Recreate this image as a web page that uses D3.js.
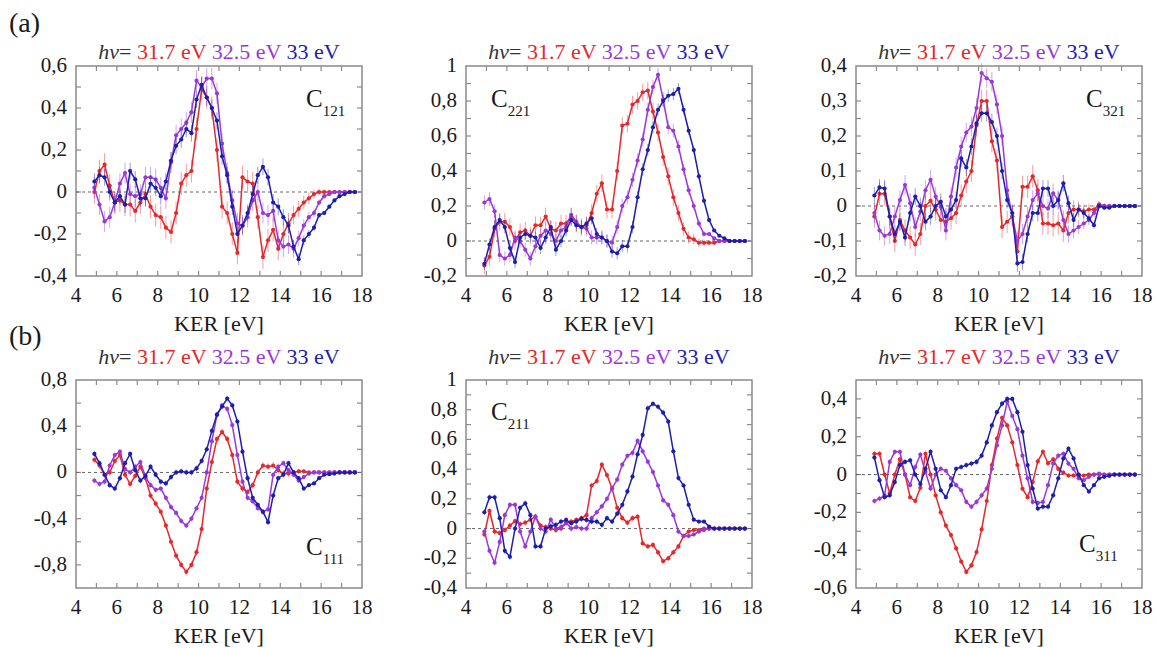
<!DOCTYPE html>
<html>
<head>
<meta charset="utf-8">
<script src="https://cdn.jsdelivr.net/npm/d3@7"></script>
<style>
  body { margin: 0; background: #fff; }
  svg { display: block; }
</style>
</head>
<body>
<div id="chart"></div>
<script>
// KER grid (eV), shared by every series
const ker = [
  4.9, 5.15, 5.4, 5.65, 5.9, 6.15, 6.4, 6.65, 6.9, 7.15, 7.4, 7.65, 7.9,
  8.15, 8.4, 8.65, 8.9, 9.15, 9.4, 9.65, 9.9, 10.15, 10.4, 10.65, 10.9, 11.15,
  11.4, 11.65, 11.9, 12.15, 12.4, 12.65, 12.9, 13.15, 13.4, 13.65, 13.9, 14.15, 14.4,
  14.65, 14.9, 15.15, 15.4, 15.65, 15.9, 16.15, 16.4, 16.65, 16.9, 17.15, 17.4, 17.65
];
// relative size of the error bars along the KER grid (they shrink in the high-KER tail)
const errShape = [
  1, 1, 1, 1, 1, 1, 1, 1, 1, 1, 1, 1, 1,
  1, 1, 1, 1, 1, 1, 1, 1, 1, 1, 1, 1, 1,
  1, 1, 1, 1, 1, 1, 1, 1, 1, 1, 1, 1, 0.9,
  0.8, 0.7, 0.6, 0.5, 0.4, 0.3, 0.25, 0.2, 0.15, 0.1, 0.1, 0.1, 0.1
];

const photonEnergies = ["31.7 eV", "32.5 eV", "33 eV"];
const xTicks = [4, 6, 8, 10, 12, 14, 16, 18];

// (a) C121
const c121Red = [
  0.0, 0.1, 0.13, 0.03, -0.05, -0.04, -0.06, -0.06, -0.09, -0.05, -0.01, -0.07, -0.11,
  -0.12, -0.17, -0.19, -0.1, 0.04, 0.08, 0.1, 0.3, 0.49, 0.45, 0.4, 0.2, -0.07,
  -0.1, -0.2, -0.29, 0.07, 0.05, 0.04, -0.12, -0.31, -0.23, -0.18, -0.27, -0.2, -0.15,
  -0.11, -0.08, -0.05, -0.03, -0.01, 0, 0, 0, 0, 0, 0, 0, 0];
const c121Violet = [
  0.02, -0.06, -0.14, -0.12, -0.05, 0.04, 0.09, -0.01, -0.02, -0.01, 0.07, 0.07, 0.06,
  0.02, -0.03, 0.14, 0.27, 0.3, 0.33, 0.38, 0.53, 0.5, 0.54, 0.54, 0.47, 0.23,
  0.09, -0.04, -0.15, -0.16, -0.12, -0.04, 0.0, -0.1, -0.11, -0.09, -0.23, -0.26, -0.25,
  -0.27, -0.22, -0.16, -0.12, -0.1, -0.05, -0.02, -0.01, 0, 0, 0, 0, 0];
const c121Blue = [
  0.05, 0.08, 0.07, 0.0, -0.05, -0.02, -0.06, 0.1, 0.06, -0.03, -0.03, 0.04, 0.02,
  -0.02, 0.05, 0.15, 0.22, 0.25, 0.3, 0.28, 0.44, 0.51, 0.45, 0.4, 0.34, 0.17,
  0.08, -0.07, -0.2, -0.16, -0.1, -0.01, 0.08, 0.12, 0.07, -0.05, -0.07, -0.12, -0.16,
  -0.26, -0.32, -0.23, -0.2, -0.17, -0.11, -0.1, -0.07, -0.04, -0.02, -0.01, 0, 0];

// (a) C221
const c221Red = [
  -0.14, -0.09, 0.07, 0.11, 0.11, 0.08, 0.0, 0.05, 0.06, 0.03, 0.09, 0.09, 0.14,
  0.07, 0.06, 0.1, 0.1, 0.14, 0.1, 0.08, 0.09, 0.16, 0.27, 0.33, 0.18, 0.18,
  0.4, 0.66, 0.67, 0.78, 0.8, 0.85, 0.86, 0.74, 0.62, 0.48, 0.37, 0.25, 0.16,
  0.07, 0.02, 0.01, -0.01, -0.01, -0.01, -0.01, 0, 0, 0, 0, 0, 0];
const c221Violet = [
  0.22, 0.24, 0.17, -0.08, -0.1, -0.08, 0.02, 0.0, -0.05, -0.1, -0.03, 0.03, 0.06,
  0.04, 0.0, 0.06, 0.08, 0.15, 0.11, 0.08, 0.07, 0.02, 0.02, 0.02, 0.0, -0.01,
  0.08, 0.2, 0.25, 0.35, 0.46, 0.58, 0.75, 0.88, 0.95, 0.81, 0.65, 0.63, 0.54,
  0.41, 0.29, 0.2, 0.1, 0.04, 0.04, 0.015, 0, 0, 0, 0, 0, 0];
const c221Blue = [
  -0.13, -0.02, 0.08, 0.12, 0.08, -0.04, -0.12, 0.02, 0.04, 0.03, 0.02, -0.04, 0.02,
  0.08, -0.05, 0.0, 0.06, 0.12, 0.09, 0.08, 0.1, 0.13, 0.04, 0.02, 0.0, -0.06,
  -0.07, -0.03, -0.03, 0.08, 0.25, 0.41, 0.52, 0.65, 0.75, 0.8, 0.83, 0.84, 0.87,
  0.75, 0.63, 0.52, 0.37, 0.23, 0.12, 0.06, 0.03, 0.015, 0, 0, 0, 0];

// (a) C321
const c321Red = [
  -0.03, 0.035, 0.035, -0.03, -0.1, -0.04, -0.07, -0.09, -0.11, -0.08, 0.0, 0.015, -0.01,
  -0.04, -0.045, -0.035, -0.02, 0.03, 0.07, 0.1, 0.23, 0.3, 0.3, 0.185, 0.13, -0.06,
  -0.045, -0.03, -0.13, 0.055, 0.055, 0.085, 0.045, -0.05, -0.05, -0.055, -0.05, -0.07, -0.02,
  -0.01, -0.01, -0.015, -0.01, -0.01, 0.005, 0, 0, 0, 0, 0, 0, 0];
const c321Violet = [
  -0.02, -0.07, -0.085, -0.08, -0.03, 0.017, 0.06, 0.008, -0.06, -0.016, 0.045, 0.075, 0.027,
  -0.002, -0.07, 0.027, 0.11, 0.17, 0.21, 0.227, 0.28, 0.38, 0.365, 0.355, 0.29, 0.2,
  0.045, -0.03, -0.1, -0.08, -0.03, 0.017, 0.036, 0.0, -0.007, 0.036, 0.017, -0.04, -0.08,
  -0.07, -0.06, -0.05, -0.04, -0.02, 0.0, 0, 0, 0, 0, 0, 0, 0];
const c321Blue = [
  0.03, 0.053, 0.05, -0.03, -0.08, -0.045, -0.09, -0.02, 0.027, 0.0, -0.045, -0.03, 0.0,
  0.012, -0.03, -0.01, 0.017, 0.136, 0.11, 0.17, 0.236, 0.265, 0.265, 0.24, 0.2, 0.1,
  0.017, -0.02, -0.164, -0.16, -0.08, -0.02, -0.02, 0.05, 0.05, 0.0, 0.017, 0.065, 0.008,
  -0.04, -0.01, -0.02, -0.035, -0.055, 0.0, -0.005, -0.005, 0, 0, 0, 0, 0];

// (b) C111
const c111Red = [
  0.11, 0.06, -0.02, 0.0, 0.1, 0.15, -0.02, -0.1, -0.03, 0.05, -0.05, -0.2, -0.27,
  -0.34, -0.46, -0.6, -0.72, -0.8, -0.86, -0.8, -0.69, -0.49, -0.14, 0.09, 0.29, 0.35,
  0.29, 0.15, -0.08, -0.14, -0.17, -0.11, 0.0, 0.06, 0.05, 0.06, 0.02, -0.01, -0.01,
  0.0, 0.01, 0.01, 0.0, 0, 0, 0, 0, 0, 0, 0, 0, 0];
const c111Violet = [
  -0.07, -0.1, -0.08, 0.06, 0.15, 0.18, 0.03, 0.0, 0.05, 0.09, -0.04, -0.11, -0.15,
  -0.14, -0.22, -0.3, -0.35, -0.42, -0.46, -0.4, -0.31, -0.22, 0.0, 0.27, 0.5, 0.58,
  0.55, 0.41, 0.15, -0.08, -0.22, -0.25, -0.31, -0.34, -0.32, -0.02, 0.05, 0.08, 0.02,
  -0.02, -0.07, -0.04, -0.01, 0, 0, 0, 0, 0, 0, 0, 0, 0];
const c111Blue = [
  0.16, 0.08, -0.02, -0.11, -0.14, -0.05, 0.08, 0.16, 0.02, -0.07, -0.03, 0.05, -0.02,
  -0.08, -0.095, -0.04, 0.0, 0.01, 0.0, 0.0, 0.035, 0.1, 0.2, 0.36, 0.5, 0.57,
  0.64, 0.58, 0.44, 0.18, -0.05, -0.22, -0.28, -0.34, -0.43, -0.2, -0.05, -0.02, 0.08,
  0.0, -0.05, -0.14, -0.11, -0.095, -0.05, -0.02, -0.015, -0.01, 0, 0, 0, 0];

// (b) C211
const c211Red = [
  -0.04, 0.12, -0.02, -0.03, -0.01, 0.02, 0.05, 0.03, 0.04, 0.06, 0.08, 0.02, 0.01,
  0.0, -0.01, 0.0, 0.036, 0.047, 0.058, 0.07, 0.09, 0.29, 0.32, 0.43, 0.36, 0.27,
  0.14, 0.07, 0.04, 0.07, 0.08, -0.1, -0.12, -0.11, -0.16, -0.22, -0.2, -0.16, -0.12,
  -0.05, -0.02, -0.01, -0.01, 0, 0, 0, 0, 0, 0, 0, 0, 0];
const c211Violet = [
  -0.02, -0.15, -0.23, -0.09, 0.09, 0.16, 0.16, -0.02, -0.12, -0.02, 0.08, 0.0, -0.02,
  0.06, 0.0, 0.01, 0.04, 0.0, 0.01, 0.0, 0.0, 0.07, 0.11, 0.15, 0.2, 0.27,
  0.33, 0.43, 0.49, 0.51, 0.59, 0.52, 0.45, 0.38, 0.29, 0.19, 0.16, 0.09, -0.02,
  -0.05, -0.05, -0.04, -0.02, -0.01, 0, 0, 0, 0, 0, 0, 0, 0];
const c211Blue = [
  0.11, 0.21, 0.21, 0.07, -0.15, -0.19, 0.0, 0.14, 0.17, 0.09, -0.12, -0.12, 0.0,
  0.015, 0.025, 0.047, 0.058, 0.036, 0.047, 0.065, 0.058, 0.047, 0.047, 0.025, 0.07, 0.047,
  0.1, 0.16, 0.25, 0.35, 0.5, 0.63, 0.81, 0.84, 0.82, 0.78, 0.72, 0.52, 0.34,
  0.29, 0.16, 0.06, 0.047, 0.047, 0.013, 0.0, 0, 0, 0, 0, 0, 0];

// (b) C311
const c311Red = [
  0.11, 0.11, 0.0, -0.1, 0.0, 0.08, 0.0, -0.12, -0.14, -0.07, 0.11, 0.0, -0.11,
  -0.2, -0.27, -0.32, -0.39, -0.46, -0.515, -0.48, -0.41, -0.29, -0.14, 0.05, 0.19, 0.3,
  0.26, 0.17, 0.05, -0.075, -0.12, -0.04, 0.07, 0.12, 0.06, 0.08, 0.03, 0.01, -0.005,
  -0.005, -0.005, -0.005, 0, 0, 0, 0, 0, 0, 0, 0, 0, 0];
const c311Violet = [
  -0.14, -0.127, -0.11, 0.067, 0.12, 0.12, 0.0, -0.056, 0.04, 0.106, 0.014, -0.074, 0.0,
  0.03, 0.02, -0.02, -0.056, -0.083, -0.145, -0.17, -0.145, -0.11, -0.074, 0.03, 0.155, 0.26,
  0.385, 0.31, 0.24, 0.1, -0.02, -0.145, -0.15, -0.145, -0.056, 0.058, 0.1, 0.11, 0.058,
  0.03, -0.02, -0.03, -0.012, 0.0, 0.005, 0, 0, 0, 0, 0, 0, 0];
const c311Blue = [
  0.09, -0.03, -0.12, -0.11, -0.04, 0.05, 0.067, 0.075, 0.0, -0.05, 0.03, 0.12, 0.03,
  -0.083, -0.12, -0.056, 0.03, 0.04, 0.05, 0.058, 0.067, 0.1, 0.17, 0.26, 0.33, 0.375,
  0.4, 0.4, 0.33, 0.226, 0.05, -0.074, -0.18, -0.17, -0.17, -0.11, -0.02, 0.085, 0.137,
  0.085, 0.0, -0.056, -0.09, -0.056, -0.02, -0.012, -0.007, 0, 0, 0, 0, 0];

// error bar half-lengths (red, violet, blue) per panel
const err121 = [0.055, 0.05, 0.04];
const err221 = [0.05, 0.04, 0.035];
const err321 = [0.032, 0.028, 0.024];
const err111 = [0.03, 0.025, 0.025];
const err211 = [0.02, 0.02, 0.02];
const err311 = [0.015, 0.015, 0.015];

const colors = ["#e4282c", "#9a38d6", "#1e1eae"];
const serif = "Liberation Serif";
const ink = "#1a1a1a";

const panels = [
  { sub: "121", left: 76,  top: 66,  h: 210, y: [-0.4, 0.6], minor: 0.1,  major: 0.2, series: [c121Red, c121Violet, c121Blue], err: err121, lab: [230, 41] },
  { sub: "221", left: 466, top: 66,  h: 210, y: [-0.2, 1.0], minor: 0.1,  major: 0.2, series: [c221Red, c221Violet, c221Blue], err: err221, lab: [25, 41] },
  { sub: "321", left: 856, top: 66,  h: 210, y: [-0.2, 0.4], minor: 0.05, major: 0.1, series: [c321Red, c321Violet, c321Blue], err: err321, lab: [230, 41] },
  { sub: "111", left: 76,  top: 380, h: 208, y: [-1.0, 0.8], minor: 0.2,  major: 0.4, series: [c111Red, c111Violet, c111Blue], err: err111, lab: [230, 175] },
  { sub: "211", left: 466, top: 380, h: 208, y: [-0.4, 1.0], minor: 0.1,  major: 0.2, series: [c211Red, c211Violet, c211Blue], err: err211, lab: [25, 40] },
  { sub: "311", left: 856, top: 380, h: 208, y: [-0.6, 0.5], minor: 0.1,  major: 0.2, series: [c311Red, c311Violet, c311Blue], err: err311, lab: [223, 172] }
];
const plotW = 286;

const width = 1156, height = 648;
const svg = d3.select("#chart").append("svg")
  .attr("width", width)
  .attr("height", height)
  .attr("font-family", serif);

const fmt = v => {
  const r = Math.round(v * 10) / 10;
  return (r === 0 ? "0" : String(r)).replace(".", ",");
};
// multiples of step inside [lo, hi]
const multiples = (lo, hi, step) => {
  const a = Math.ceil(lo / step - 1e-6), b = Math.floor(hi / step + 1e-6);
  return d3.range(a, b + 1).map(i => i * step);
};

panels.forEach((p, pi) => {
  const g = svg.append("g").attr("transform", `translate(${p.left},${p.top})`);
  const x = d3.scaleLinear().domain([4, 18]).range([0, plotW]);
  const y = d3.scaleLinear().domain(p.y).range([p.h, 0]);

  // frame
  g.append("rect")
    .attr("width", plotW).attr("height", p.h)
    .attr("fill", "none").attr("stroke", "#8a8a8a").attr("stroke-width", 1.5);

  // inner ticks on all sides
  const tickLen = 5;
  const xMinor = d3.range(5, 18, 1);
  const yMinor = multiples(p.y[0], p.y[1], p.minor)
    .filter(v => v > p.y[0] + 1e-6 && v < p.y[1] - 1e-6);
  const tg = g.append("g").attr("stroke", "#8a8a8a").attr("stroke-width", 1.2);
  xMinor.forEach(v => {
    tg.append("line").attr("x1", x(v)).attr("x2", x(v)).attr("y1", p.h).attr("y2", p.h - tickLen);
    tg.append("line").attr("x1", x(v)).attr("x2", x(v)).attr("y1", 0).attr("y2", tickLen);
  });
  yMinor.forEach(v => {
    tg.append("line").attr("y1", y(v)).attr("y2", y(v)).attr("x1", 0).attr("x2", tickLen);
    tg.append("line").attr("y1", y(v)).attr("y2", y(v)).attr("x1", plotW).attr("x2", plotW - tickLen);
  });

  // tick labels
  g.selectAll(".xl").data(xTicks).enter().append("text")
    .attr("x", d => x(d)).attr("y", p.h + 26)
    .attr("text-anchor", "middle").attr("font-size", 21).attr("fill", ink)
    .text(d => d);
  const yLabels = multiples(p.y[0], p.y[1], p.major);
  g.selectAll(".yl").data(yLabels).enter().append("text")
    .attr("x", -9).attr("y", d => y(d) + 6)
    .attr("text-anchor", "end").attr("font-size", 21).attr("fill", ink)
    .text(d => fmt(d));

  // zero line
  g.append("line")
    .attr("x1", 0).attr("x2", plotW).attr("y1", y(0)).attr("y2", y(0))
    .attr("stroke", "#666").attr("stroke-width", 1).attr("stroke-dasharray", "3,3");

  // series
  p.series.forEach((vals, si) => {
    const pts = vals.map((v, i) => ({ k: ker[i], v, e: p.err[si] * errShape[i] }));
    const c = colors[si];
    g.append("g").selectAll("line").data(pts).enter().append("line")
      .attr("x1", d => x(d.k)).attr("x2", d => x(d.k))
      .attr("y1", d => y(d.v - d.e)).attr("y2", d => y(d.v + d.e))
      .attr("stroke", c).attr("stroke-opacity", 0.45).attr("stroke-width", 1);
    g.append("path").datum(pts)
      .attr("fill", "none").attr("stroke", c).attr("stroke-width", 1.5)
      .attr("d", d3.line().x(d => x(d.k)).y(d => y(d.v)));
    g.append("g").selectAll("circle").data(pts).enter().append("circle")
      .attr("cx", d => x(d.k)).attr("cy", d => y(d.v)).attr("r", 2.1)
      .attr("fill", c);
  });

  // C label
  const lab = g.append("text")
    .attr("x", p.lab[0]).attr("y", p.lab[1]).attr("fill", ink);
  lab.append("tspan").attr("font-size", 25).text("C");
  lab.append("tspan").attr("font-size", 15).attr("dy", 9).text(p.sub);

  // header
  const hd = g.append("text")
    .attr("x", plotW / 2).attr("y", pi < 3 ? -7 : -16)
    .attr("text-anchor", "middle").attr("font-size", 22).attr("fill", "#333");
  hd.append("tspan").attr("font-style", "italic").text("hν");
  hd.append("tspan").text("= ");
  photonEnergies.forEach((e, i) => {
    hd.append("tspan").attr("fill", colors[i]).text((i ? " " : "") + e);
  });

  // axis title
  g.append("text")
    .attr("x", plotW / 2).attr("y", p.h + 55)
    .attr("text-anchor", "middle").attr("font-size", 22).attr("fill", ink)
    .text("KER [eV]");
});

svg.append("text").attr("x", 9).attr("y", 32).attr("font-size", 28).attr("fill", ink).text("(a)");
svg.append("text").attr("x", 9).attr("y", 345).attr("font-size", 28).attr("fill", ink).text("(b)");
</script>
</body>
</html>
